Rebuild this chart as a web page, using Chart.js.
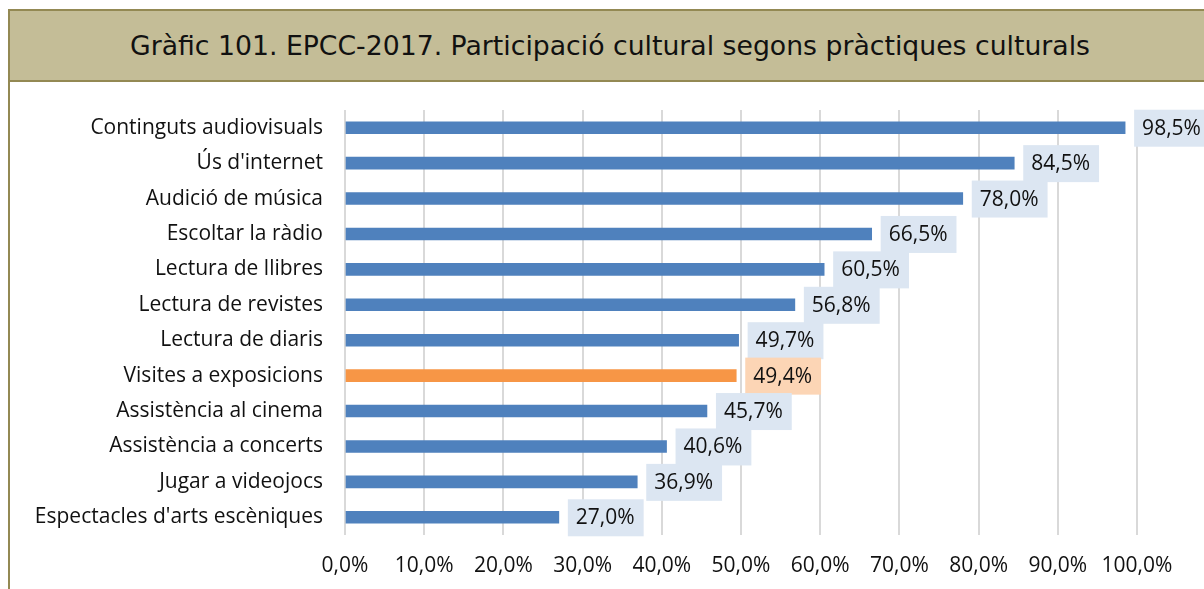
<!DOCTYPE html>
<html>
<head>
<meta charset="utf-8">
<script src="https://cdn.jsdelivr.net/npm/chart.js"></script>
<style>
  html, body { margin: 0; padding: 0; background: #fff; }
  body { width: 1204px; height: 589px; position: relative; overflow: hidden; }
  #frame { position: absolute; left: 8px; top: 80px; width: 2px; height: 520px; background: #938953; }
  #title {
    position: absolute; left: 8px; top: 9px; width: 1210px; height: 69px;
    background: #C4BD97; border-top: 2px solid #938953; border-left: 2px solid #938953;
    border-bottom: 2px solid #938953;
    font-family: "DejaVu Sans", sans-serif; font-size: 26.7px; color: #111;
    line-height: 69px; box-sizing: content-box;
  }
  #title span { position: absolute; left: 120px; white-space: nowrap; }
  #stub { position: absolute; left: 8px; top: 80px; width: 11px; height: 2px; background: #938953; }
  canvas { position: absolute; left: 0; top: 0; }
</style>
</head>
<body>
<canvas id="chart" width="1204" height="589"></canvas>
<div id="frame"></div>
<div id="title"><span>Gràfic 101. EPCC-2017. Participació cultural segons pràctiques culturals</span></div>
<div id="stub"></div>
<script>
const categories = [
  "Continguts audiovisuals",
  "Ús d'internet",
  "Audició de música",
  "Escoltar la ràdio",
  "Lectura de llibres",
  "Lectura de revistes",
  "Lectura de diaris",
  "Visites a exposicions",
  "Assistència al cinema",
  "Assistència a concerts",
  "Jugar a videojocs",
  "Espectacles d'arts escèniques"
];
const values = [98.5, 84.5, 78.0, 66.5, 60.5, 56.8, 49.7, 49.4, 45.7, 40.6, 36.9, 27.0];
const highlight = "Visites a exposicions";

const barColors = categories.map(c => c === highlight ? "#F79646" : "#4F81BD");
const boxColors = categories.map(c => c === highlight ? "#FCD5B5" : "#DCE6F2");

const fmt = v => v.toFixed(1).replace(".", ",") + "%";

// boxed value labels next to each bar
const boxLabels = {
  id: "boxLabels",
  afterDatasetsDraw(chart) {
    const ctx = chart.ctx;
    const meta = chart.getDatasetMeta(0);
    ctx.save();
    ctx.font = "21px 'Open Sans', sans-serif";
    ctx.textBaseline = "middle";
    meta.data.forEach((bar, i) => {
      const txt = fmt(values[i]);
      const w = ctx.measureText(txt).width + 17;
      const x = bar.x + 9;
      ctx.fillStyle = boxColors[i];
      ctx.fillRect(x, bar.y - 18, w, 37);
      ctx.fillStyle = "#111";
      ctx.fillText(txt, x + 8, bar.y + 1);
    });
    ctx.restore();
  }
};

new Chart(document.getElementById("chart").getContext("2d"), {
  type: "bar",
  data: {
    labels: categories,
    datasets: [{
      data: values,
      backgroundColor: barColors,
      barThickness: 12
    }]
  },
  options: {
    indexAxis: "y",
    responsive: false,
    animation: false,
    layout: { padding: { top: 110, right: 67, left: 0, bottom: 0 } },
    plugins: { legend: { display: false }, tooltip: { enabled: false } },
    scales: {
      x: {
        min: 0, max: 100,
        grid: { color: "#D9D9D9", lineWidth: 2, drawTicks: false },
        border: { display: false },
        ticks: {
          stepSize: 10, padding: 18, color: "#111",
          font: { family: "'Open Sans', sans-serif", size: 21 },
          callback: v => fmt(v)
        },
        afterFit: s => { s.height = 54; }
      },
      y: {
        grid: { display: false },
        border: { display: false },
        ticks: {
          padding: 14, color: "#111",
          font: { family: "'Open Sans', sans-serif", size: 21 }
        },
        afterFit: s => { s.width = 345; }
      }
    }
  },
  plugins: [boxLabels]
});
</script>
</body>
</html>
